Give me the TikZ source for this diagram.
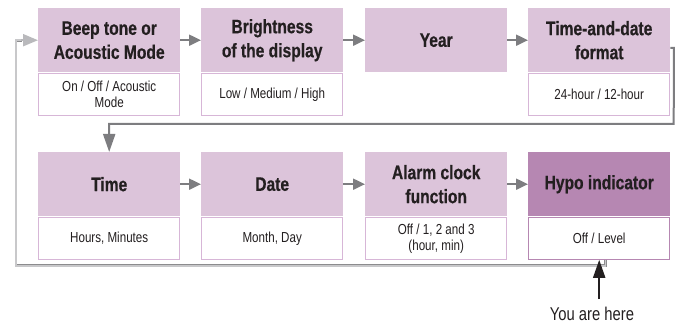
\documentclass[tikz,border=0pt]{standalone}
\usepackage{fontspec}
\setmainfont[FakeStretch=0.8]{Liberation Sans}
\newfontfamily\titlefont[FakeStretch=0.8, BoldFeatures={FakeBold=0.6}]{Liberation Sans}
\usetikzlibrary{arrows.meta,calc}
\definecolor{hdr}{RGB}{220,196,218}
\definecolor{hdrdark}{RGB}{182,135,178}
\definecolor{subedge}{RGB}{215,182,215}
\definecolor{subedgedark}{RGB}{182,135,178}
\definecolor{txt}{RGB}{35,31,32}
\definecolor{arrgray}{RGB}{125,125,128}
\definecolor{loopedge}{RGB}{140,140,142}
\definecolor{loopfill}{RGB}{200,200,202}
\definecolor{lightarr}{RGB}{185,185,188}
\begin{document}
\begin{tikzpicture}[x=1pt,y=-1pt,
  hbox/.style={fill=hdr, minimum width=142pt, minimum height=64pt, inner sep=0pt,
    anchor=north west, align=center, font=\titlefont\fontsize{19.5}{24}\selectfont\bfseries, text=txt},
  sbox/.style={draw=subedge, line width=0.8pt, fill=white, minimum width=141.2pt,
    minimum height=42.2pt, inner sep=0pt, anchor=north, align=center,
    font=\fontsize{14.5}{16}\selectfont, text=txt},
  flow/.style={draw=arrgray, line width=2pt, -{Triangle[length=12pt,width=11pt]}},
  backloop/.style={draw=loopedge, double=loopfill, double distance=1.4pt, line width=0.7pt},
]
\useasboundingbox (0,0) rectangle (680,326);

% top row
\node[hbox] (h1) at (38,8) {Beep tone or\\Acoustic Mode};
\node[hbox] (h2) at (201,8) {Brightness\\of the display};
\node[hbox] (h3) at (365,8) {Year};
\node[hbox] (h4) at (528,8) {Time-and-date\\format};
\node[sbox] (s1) at ($(h1.south)+(0,0.4)$) {On / Off / Acoustic\\Mode};
\node[sbox] (s2) at ($(h2.south)+(0,0.4)$) {Low / Medium / High};
\node[sbox] (s4) at ($(h4.south)+(0,0.4)$) {24-hour / 12-hour};

% bottom row
\node[hbox] (h5) at (38,152) {Time};
\node[hbox] (h6) at (201,152) {Date};
\node[hbox] (h7) at (365,152) {Alarm clock\\function};
\node[hbox, fill=hdrdark] (h8) at (528,152) {Hypo indicator};
\node[sbox] (s5) at ($(h5.south)+(0,0.4)$) {Hours, Minutes};
\node[sbox] (s6) at ($(h6.south)+(0,0.4)$) {Month, Day};
\node[sbox] (s7) at ($(h7.south)+(0,0.4)$) {Off / 1, 2 and 3\\(hour, min)};
\node[sbox, draw=subedgedark] (s8) at ($(h8.south)+(0,0.4)$) {Off / Level};

% flow arrows
\draw[flow] (h1.east) -- (h2.west);
\draw[flow] (h2.east) -- (h3.west);
\draw[flow] (h3.east) -- (h4.west);
\draw[flow] (h5.east) -- (h6.west);
\draw[flow] (h6.east) -- (h7.west);
\draw[flow] (h7.east) -- (h8.west);

% top loop: Time-and-date format -> Time
\coordinate (t1) at ($(h4.north east)+(3.5,40)$);
\coordinate (t2) at ($(s4.south east)+(3.5,8)$);
\draw[draw=arrgray, line width=2pt, -{Triangle[length=18pt,width=12pt]}]
  ($(h4.north east)+(0,40)$) -- (t1) -- (t2) -- (t2 -| h5.north) -- (h5.north);

% bottom loop: Hypo indicator -> Beep tone
\coordinate (b1) at ($(s8.south)+(6,6)$);
\coordinate (b2) at (16,0);
\coordinate (b3) at (22,0);
\draw[backloop] ($(s8.south)+(6,0)$) -- (b1) -- (b1 -| b2) -- (b2 |- h1.west) -- (b3 |- h1.west);
\draw[draw=lightarr, line width=2pt, -{Triangle[length=15pt,width=12pt]}]
  ($(b3 |- h1.west)+(-1,0)$) -- (h1.west);

% you are here
\node[font=\fontsize{18.5}{22}\selectfont, text=txt, inner sep=0pt, outer sep=8pt] (you) at (592,314) {You are here};
\draw[draw=txt, line width=2pt, -{Triangle[length=18pt,width=12pt]}] (you.north -| s8.south) -- (s8.south);
\end{tikzpicture}
\end{document}
